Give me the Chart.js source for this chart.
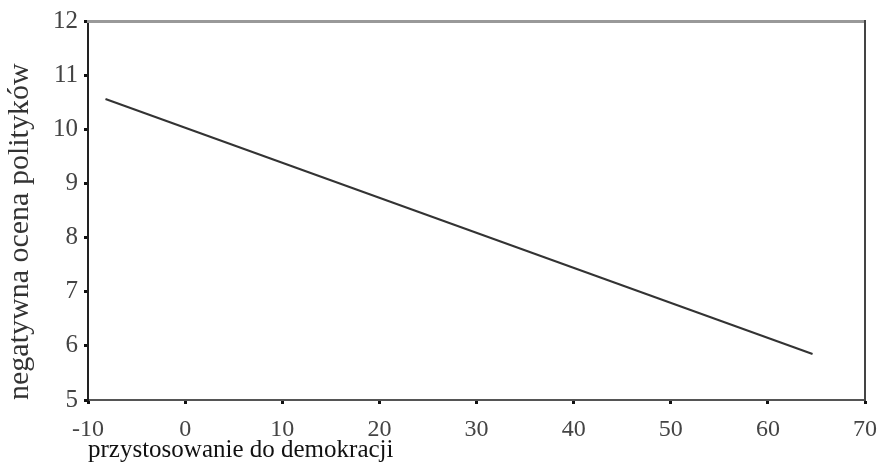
<!DOCTYPE html>
<html>
<head>
<meta charset="utf-8">
<script src="https://cdn.jsdelivr.net/npm/chart.js@4.4.0/dist/chart.umd.min.js"></script>
<style>
  html, body { margin: 0; padding: 0; background: #fff; }
  #wrap { width: 885px; height: 475px; }
</style>
</head>
<body>
<div id="wrap"><canvas id="fitChart"></canvas></div>
<script>
// fitted line
let xValues = [-8.2, 64.6];
let yValues = [10.56, 5.85];
let xTicks = [-10, 0, 10, 20, 30, 40, 50, 60, 70];
let yTicks = [5, 6, 7, 8, 9, 10, 11, 12];
let xTitle = "przystosowanie do demokracji";
let yTitle = "negatywna ocena polityków";

let points = xValues.map((x, i) => ({ x: x, y: yValues[i] }));
let serif = "'Liberation Serif', 'Times New Roman', serif";

let ctx = document.getElementById("fitChart").getContext("2d");

let fitChart = new Chart(ctx, {
  type: "scatter",
  data: {
    datasets: [
      {
        data: points,
        showLine: true,
        borderColor: "#333",
        borderWidth: 2,
        pointRadius: 0,
      },
    ],
  },
  options: {
    responsive: true,
    maintainAspectRatio: false,
    animation: false,
    layout: { padding: { top: 21, right: 20, left: 0, bottom: 0 } },
    plugins: {
      legend: { display: false },
      tooltip: { enabled: false },
    },
    scales: {
      x: {
        type: "linear",
        min: xTicks[0],
        max: xTicks[xTicks.length - 1],
        afterBuildTicks: (s) => { s.ticks = xTicks.map((v) => ({ value: v })); },
        afterFit: (s) => { s.height = 75; s.paddingRight = 0; s.paddingLeft = 0; },
        grid: { drawOnChartArea: false, tickLength: 4, tickWidth: 3, tickColor: "#111" },
        border: { color: "#555", width: 2 },
        ticks: { color: "#444", padding: 11, font: { family: serif, size: 24 } },
        title: {
          display: true,
          text: xTitle,
          align: "start",
          color: "#111",
          font: { family: serif, size: 25 },
          padding: { top: 0, bottom: 10 },
        },
      },
      y: {
        type: "linear",
        min: yTicks[0],
        max: yTicks[yTicks.length - 1],
        afterBuildTicks: (s) => { s.ticks = yTicks.map((v) => ({ value: v })); },
        afterFit: (s) => { s.width = 88; },
        grid: { drawOnChartArea: false, tickLength: 4, tickWidth: 3, tickColor: "#111" },
        border: { color: "#222", width: 2 },
        ticks: { color: "#444", padding: 6, font: { family: serif, size: 25 } },
        title: {
          display: true,
          text: yTitle,
          align: "start",
          color: "#333",
          font: { family: serif, size: 30 },
          padding: { top: 2, bottom: 0 },
        },
      },
      x2: {
        type: "linear",
        position: "top",
        min: xTicks[0],
        max: xTicks[xTicks.length - 1],
        grid: { display: false, drawTicks: false },
        ticks: { display: false },
        border: { color: "#999", width: 3 },
      },
      y2: {
        type: "linear",
        position: "right",
        min: yTicks[0],
        max: yTicks[yTicks.length - 1],
        grid: { display: false, drawTicks: false },
        ticks: { display: false },
        border: { color: "#444", width: 2 },
      },
    },
  },
});
</script>
</body>
</html>
